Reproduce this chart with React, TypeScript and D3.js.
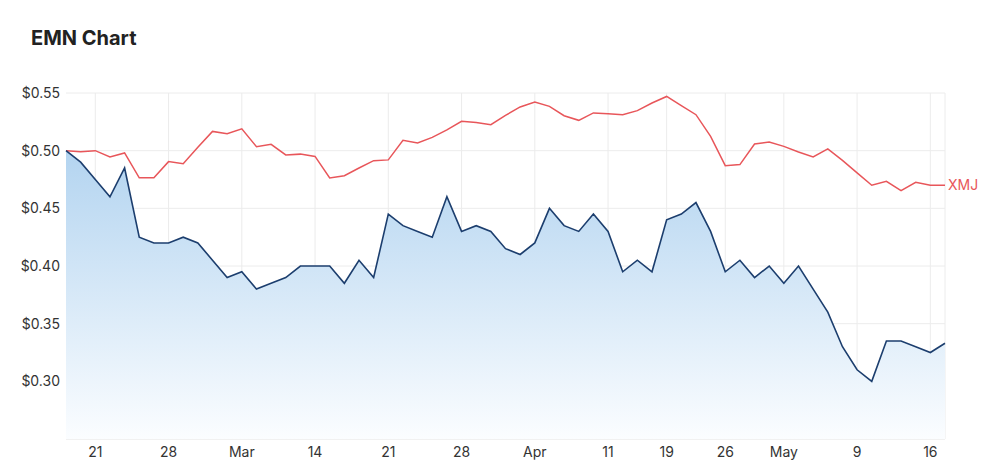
import * as d3 from 'd3';
import React, { useRef, useEffect } from 'react';

const dates = [
  'Feb 17', 'Feb 18', 'Feb 21', 'Feb 22', 'Feb 23', 'Feb 24', 'Feb 25', 'Feb 28',
  'Mar 1', 'Mar 2', 'Mar 3', 'Mar 4', 'Mar 7', 'Mar 8', 'Mar 9', 'Mar 10', 'Mar 11',
  'Mar 14', 'Mar 15', 'Mar 16', 'Mar 17', 'Mar 18', 'Mar 21', 'Mar 22', 'Mar 23',
  'Mar 24', 'Mar 25', 'Mar 28', 'Mar 29', 'Mar 30', 'Mar 31', 'Apr 1', 'Apr 4',
  'Apr 5', 'Apr 6', 'Apr 7', 'Apr 8', 'Apr 11', 'Apr 12', 'Apr 13', 'Apr 14',
  'Apr 19', 'Apr 20', 'Apr 21', 'Apr 22', 'Apr 26', 'Apr 27', 'Apr 28', 'Apr 29',
  'May 2', 'May 3', 'May 4', 'May 5', 'May 6', 'May 9', 'May 10', 'May 11',
  'May 12', 'May 13', 'May 16', 'May 17',
];

const emn = [
  0.5, 0.49, 0.475, 0.46, 0.485, 0.425, 0.42, 0.42, 0.425, 0.42, 0.405, 0.39,
  0.395, 0.38, 0.385, 0.39, 0.4, 0.4, 0.4, 0.385, 0.405, 0.39, 0.445, 0.435,
  0.43, 0.425, 0.46, 0.43, 0.435, 0.43, 0.415, 0.41, 0.42, 0.45, 0.435, 0.43,
  0.445, 0.43, 0.395, 0.405, 0.395, 0.44, 0.445, 0.455, 0.43, 0.395, 0.405,
  0.39, 0.4, 0.385, 0.4, 0.38, 0.36, 0.33, 0.31, 0.3, 0.335, 0.335, 0.33,
  0.325, 0.333,
];

const xmj = [
  0.5, 0.499, 0.5, 0.4945, 0.498, 0.4765, 0.4765, 0.4905, 0.4887, 0.503, 0.5167,
  0.5147, 0.519, 0.5035, 0.5055, 0.4963, 0.497, 0.495, 0.4763, 0.4783, 0.485,
  0.4913, 0.492, 0.509, 0.5067, 0.5115, 0.518, 0.5254, 0.5245, 0.5225, 0.5306,
  0.5379, 0.5422, 0.5384, 0.5303, 0.5263, 0.5327, 0.532, 0.5312, 0.5347, 0.5413,
  0.547, 0.539, 0.5312, 0.5124, 0.487, 0.4879, 0.5058, 0.5075, 0.5037, 0.4989,
  0.4945, 0.5015, 0.4916, 0.4807, 0.47, 0.4734, 0.4654, 0.4726, 0.47, 0.47,
];

// tick dates and their labels
const tickDates = ['Feb 21', 'Feb 28', 'Mar 7', 'Mar 14', 'Mar 21', 'Mar 28', 'Apr 4', 'Apr 11', 'Apr 19', 'Apr 26', 'May 2', 'May 9', 'May 16'];
const tickLabels = ['21', '28', 'Mar', '14', '21', '28', 'Apr', '11', '19', '26', 'May', '9', '16'];
const yTicks = [0.3, 0.35, 0.4, 0.45, 0.5, 0.55];

const W = 1000;
const H = 468;
const plot = { left: 66, right: 945, top: 93, bottom: 439 };
const font = 'Inter, "Noto Sans", sans-serif';

const App = () => {
  const containerRef = useRef<HTMLDivElement>(null);

  useEffect(() => {
    if (!containerRef.current) return;
    d3.select(containerRef.current).selectAll('*').remove();

    const svg = d3
      .select(containerRef.current)
      .append('svg')
      .attr('width', W)
      .attr('height', H)
      .style('font-family', font);

    const x = d3.scaleLinear().domain([0, dates.length - 1]).range([plot.left, plot.right]);
    const y = d3.scaleLinear().domain([0.25, 0.55]).range([plot.bottom, plot.top]);

    const defs = svg.append('defs');
    const grad = defs
      .append('linearGradient')
      .attr('id', 'emnFill')
      .attr('x1', 0)
      .attr('y1', 0)
      .attr('x2', 0)
      .attr('y2', 1);
    grad.append('stop').attr('offset', '0%').attr('stop-color', '#b3d4f0');
    grad.append('stop').attr('offset', '100%').attr('stop-color', '#fbfdff');

    svg
      .append('text')
      .attr('x', 31)
      .attr('y', 45)
      .attr('font-size', 20)
      .attr('font-weight', 700)
      .attr('fill', '#222')
      .text('EMN Chart');

    // grid
    const grid = svg.append('g');
    grid
      .selectAll('line.h')
      .data(yTicks)
      .join('line')
      .attr('class', 'h')
      .attr('x1', plot.left)
      .attr('x2', plot.right)
      .attr('y1', (d) => y(d))
      .attr('y2', (d) => y(d))
      .attr('stroke', '#ececec');
    grid
      .selectAll('line.v')
      .data(tickDates)
      .join('line')
      .attr('class', 'v')
      .attr('x1', (d) => x(dates.indexOf(d)))
      .attr('x2', (d) => x(dates.indexOf(d)))
      .attr('y1', plot.top)
      .attr('y2', plot.bottom)
      .attr('stroke', '#ececec');
    grid
      .append('line')
      .attr('x1', plot.right)
      .attr('x2', plot.right)
      .attr('y1', plot.top)
      .attr('y2', plot.bottom)
      .attr('stroke', '#ececec');

    const area = d3
      .area<number>()
      .x((d, i) => x(i))
      .y0(plot.bottom)
      .y1((d) => y(d));
    svg.append('path').datum(emn).attr('d', area).attr('fill', 'url(#emnFill)');

    grid
      .append('line')
      .attr('x1', plot.left)
      .attr('x2', plot.right)
      .attr('y1', plot.bottom)
      .attr('y2', plot.bottom)
      .attr('stroke', '#e3e3e3');

    const line = d3
      .line<number>()
      .x((d, i) => x(i))
      .y((d) => y(d));

    svg
      .append('path')
      .datum(xmj)
      .attr('d', line)
      .attr('fill', 'none')
      .attr('stroke', '#e8565a')
      .attr('stroke-width', 1.5);

    svg
      .append('path')
      .datum(emn)
      .attr('d', line)
      .attr('fill', 'none')
      .attr('stroke', '#1c3e6e')
      .attr('stroke-width', 1.6);

    svg
      .append('text')
      .attr('x', plot.right + 3)
      .attr('y', y(xmj[xmj.length - 1]))
      .attr('dy', '0.35em')
      .attr('font-size', 14)
      .attr('fill', '#e8565a')
      .text('XMJ');

    // axes labels
    svg
      .append('g')
      .selectAll('text')
      .data(yTicks)
      .join('text')
      .attr('x', 60)
      .attr('y', (d) => y(d))
      .attr('dy', '0.35em')
      .attr('text-anchor', 'end')
      .attr('font-size', 14)
      .attr('fill', '#333')
      .text((d) => '$' + d3.format('.2f')(d));

    svg
      .append('g')
      .selectAll('text')
      .data(tickDates)
      .join('text')
      .attr('x', (d) => x(dates.indexOf(d)))
      .attr('y', 457)
      .attr('text-anchor', 'middle')
      .attr('font-size', 14)
      .attr('fill', '#333')
      .text((d, i) => tickLabels[i]);
  }, [containerRef]);

  return <div ref={containerRef} style={{ position: 'absolute', left: 0, top: 0 }}></div>;
};

export default App;
